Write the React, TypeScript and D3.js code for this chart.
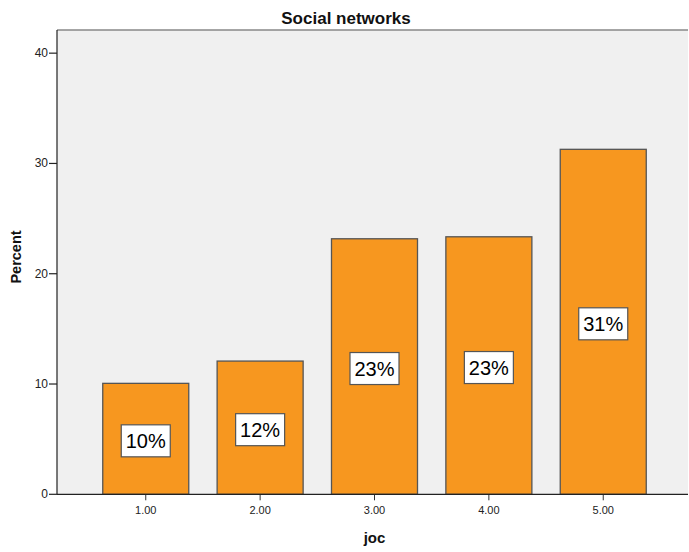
import React from "react";
import * as d3 from "d3";

const categories = ["1.00", "2.00", "3.00", "4.00", "5.00"];
const percents = [10.06, 12.08, 23.17, 23.35, 31.28];
const labels = ["10%", "12%", "23%", "23%", "31%"];
const yTicks = [0, 10, 20, 30, 40];

export default function App() {
  const W = 689, H = 552;
  const left = 57, top = 30, right = 688, bottom = 494.3;
  const y = d3.scaleLinear().domain([0, 42.1]).range([bottom, top]);
  const x = d3.scaleBand<string>().domain(categories).range([left, 692]).paddingInner(0.248).paddingOuter(0.4);
  const font = "Arial, 'Liberation Sans', sans-serif";
  return (
    <svg width={W} height={H} style={{ position: "absolute", left: 0, top: 0 }} fontFamily={font}>
      <rect x={0} y={0} width={W} height={H} fill="#fff" />
      <rect x={left} y={top} width={right - left} height={bottom - top} fill="#f0f0f0" />
      <line x1={left} x2={right} y1={top} y2={top} stroke="#888" strokeWidth={1.5} />
      <text x={346} y={24} textAnchor="middle" fontSize={17} fontWeight="bold" fill="#111">Social networks</text>
      {categories.map((c, i) => {
        const bx = x(c)!;
        const bw = x.bandwidth();
        const by = y(percents[i]);
        const mid = (by + bottom) / 2 + 2;
        return (
          <g key={c}>
            <rect x={bx} y={by} width={bw} height={bottom - by} fill="#f7971f" stroke="#555" strokeWidth={1.3} />
            <rect x={bx + bw / 2 - 24.5} y={mid - 16} width={49} height={32} fill="#fff" stroke="#555" strokeWidth={1.2} />
            <text x={bx + bw / 2} y={mid + 7} textAnchor="middle" fontSize={20} fill="#000">{labels[i]}</text>
            <line x1={bx + bw / 2} x2={bx + bw / 2} y1={bottom} y2={bottom + 6} stroke="#333" strokeWidth={1} />
            <text x={bx + bw / 2} y={bottom + 20} textAnchor="middle" fontSize={11} fill="#222">{c}</text>
          </g>
        );
      })}
      <line x1={left} x2={left} y1={top} y2={bottom} stroke="#222" strokeWidth={1.2} />
      <line x1={left} x2={right} y1={bottom} y2={bottom} stroke="#222" strokeWidth={1.2} />
      {yTicks.map((t) => (
        <g key={t}>
          <line x1={left - 8} x2={left} y1={y(t)} y2={y(t)} stroke="#222" strokeWidth={1.2} />
          <text x={left - 9} y={y(t) + 4} textAnchor="end" fontSize={12} fill="#222">{t}</text>
        </g>
      ))}
      <text transform={`translate(21,257) rotate(-90)`} textAnchor="middle" fontSize={14.5} fontWeight="bold" fill="#111">Percent</text>
      <text x={374.5} y={543} textAnchor="middle" fontSize={15} fontWeight="bold" fill="#111">joc</text>
    </svg>
  );
}
